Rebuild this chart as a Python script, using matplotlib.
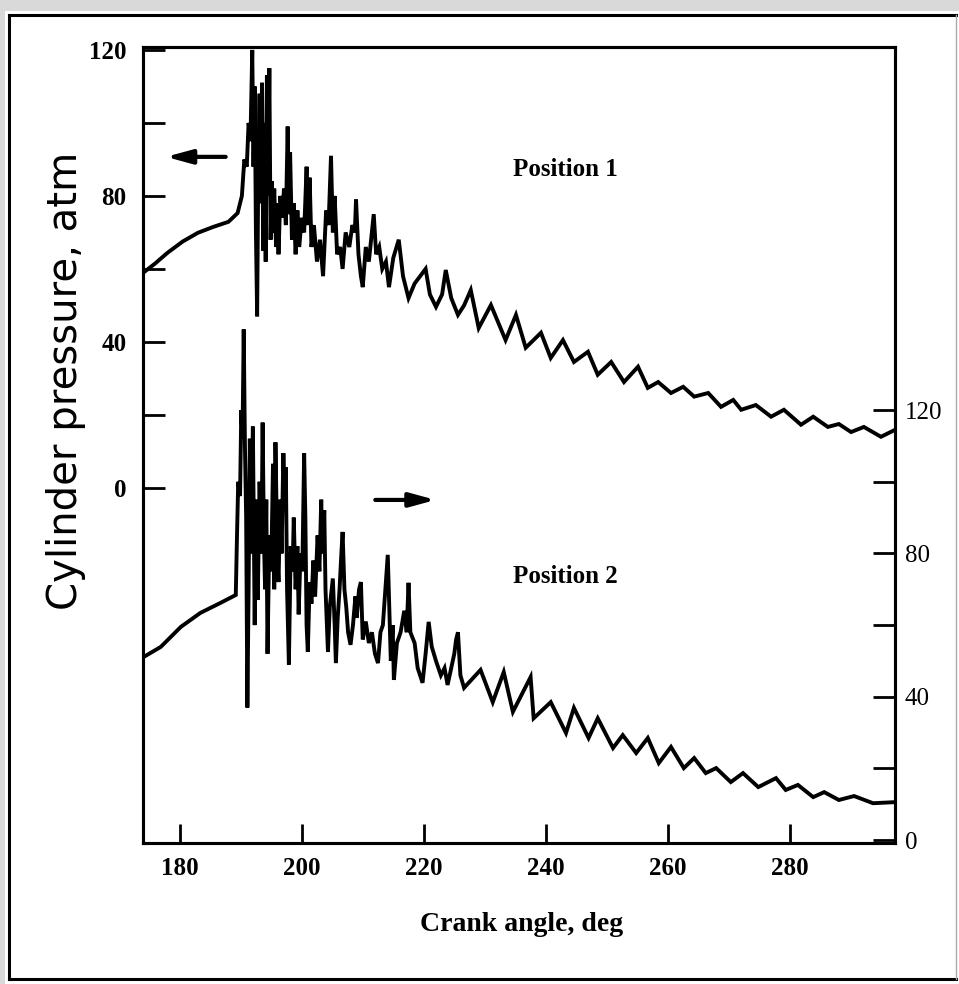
import numpy as np
import matplotlib
matplotlib.use("Agg")
from matplotlib import pyplot as plt
from matplotlib.patches import Rectangle
from matplotlib.lines import Line2D

# ---- data ----
# Position 1 (left axis, atm)
pos1_deg = [174.0, 176.0, 178.0, 180.5, 183.0, 185.5, 188.0, 189.5, 190.2, 190.6,
            191.0, 191.3, 191.6, 191.9, 192.1, 192.3, 192.5, 192.7, 192.9, 193.1,
            193.3, 193.5, 193.7, 193.9, 194.1, 194.3, 194.5, 194.7, 194.9, 195.1,
            195.3, 195.5, 195.8, 196.0, 196.2, 196.5, 196.8, 197.1, 197.4, 197.7,
            197.9, 198.1, 198.4, 198.7, 199.0, 199.3, 199.6, 200.0, 200.4, 200.8,
            201.0, 201.3, 201.6, 202.0, 202.5, 203.0, 203.5, 204.0, 204.4, 204.8,
            205.1, 205.4, 205.8, 206.3, 206.7, 207.2, 207.8, 208.3, 208.7, 208.9,
            209.3, 209.7, 210.0, 210.5, 211.0, 211.5, 211.8, 212.2, 212.7, 213.2,
            213.8, 214.3, 215.0, 215.9, 216.6, 217.5, 218.5, 220.3, 221.0, 222.0,
            223.0, 223.6, 224.5, 225.6, 226.6, 227.7, 229.0, 231.0, 233.4, 235.1,
            236.7, 239.2, 240.8, 242.8, 244.6, 246.9, 248.5, 250.7, 252.8, 255.1,
            256.7, 258.4, 260.5, 262.5, 264.3, 266.6, 268.7, 270.7, 272.0, 274.4,
            276.9, 279.0, 281.8, 283.8, 286.2, 288.0, 290.0, 292.1, 294.9, 297.2]
pos1_p = [58.9, 61.5, 64.4, 67.5, 69.9, 71.5, 72.9, 75.3, 80, 90,
          88, 100, 95, 120, 88, 110, 70, 47, 90, 108,
          78, 111, 65, 100, 62, 113, 80, 115, 68, 84,
          70, 82, 66, 78, 64, 80, 74, 82, 72, 99,
          75, 92, 68, 78, 64, 76, 66, 74, 70, 88,
          72, 85, 66, 72, 62, 68, 58, 76, 72, 91,
          70, 80, 64, 66, 60, 70, 66, 72, 70, 79,
          64, 58, 55, 66, 62, 70, 75, 64, 66, 60,
          62, 55, 63, 68, 58, 52, 56, 60, 53, 49.6,
          53, 59.7, 52, 47.4, 50, 54.2, 43.8, 50.1, 40.5, 47.4,
          38.4, 42.5, 35.6, 40.5, 34.5, 37.3, 31, 34.5, 29, 33.2,
          27.4, 29, 26, 27.7, 25, 26, 22.2, 24.1, 21.4, 22.7,
          19.5, 21.4, 17.3, 19.5, 16.7, 17.5, 15.3, 16.7, 14, 15.9]

# Position 2 (right axis, atm)
pos2_deg = [174.0, 176.9, 180.2, 183.4, 186.7, 189.2, 189.4, 189.6, 189.9, 190.1,
            190.3, 190.5, 190.7, 190.9, 191.1, 191.3, 191.5, 191.7, 192.0, 192.3,
            192.5, 192.8, 193.1, 193.4, 193.6, 193.8, 194.0, 194.2, 194.4, 194.7,
            195.0, 195.3, 195.5, 195.7, 196.0, 196.2, 196.5, 196.7, 197.0, 197.2,
            197.4, 197.6, 197.9, 198.2, 198.5, 198.7, 199.0, 199.3, 199.5, 199.8,
            200.1, 200.4, 200.6, 200.8, 201.0, 201.3, 201.6, 201.9, 202.2, 202.6,
            202.9, 203.2, 203.4, 203.7, 203.9, 204.3, 204.6, 205.1, 205.4, 205.6,
            205.9, 206.2, 206.5, 206.7, 207.0, 207.3, 207.6, 208.0, 208.4, 208.8,
            209.0, 209.4, 209.7, 210.0, 210.5, 211.0, 211.5, 212.0, 212.5, 212.9,
            213.3, 213.8, 214.1, 214.4, 214.6, 214.9, 215.1, 215.6, 216.2, 216.8,
            217.2, 217.5, 217.8, 218.5, 219.0, 219.8, 220.3, 220.8, 221.3, 222.0,
            222.8, 223.4, 223.9, 224.5, 225.0, 225.3, 225.6, 226.0, 226.6, 229.3,
            231.3, 233.1, 234.6, 237.5, 238.0, 240.8, 243.3, 244.6, 247.0, 248.5,
            251.0, 252.6, 254.8, 256.7, 258.5, 260.5, 262.6, 264.3, 266.2, 267.9,
            270.3, 272.3, 274.8, 277.7, 279.3, 281.3, 283.8, 285.6, 288.0, 290.5,
            293.6, 297.2]
pos2_p = [51, 53.9, 59.5, 63.4, 66.2, 68.4, 85, 100, 96, 120,
          112, 142.5, 110, 90, 37, 70, 112, 80, 115.4, 60,
          95, 67, 100, 80, 116.5, 85, 70, 95, 52, 85,
          75, 105, 70, 111, 80, 72, 95, 80, 108, 95,
          104, 70, 49, 82, 75, 90, 70, 82, 63, 80,
          75, 108, 90, 60, 52.5, 72, 66, 78, 68, 85,
          75, 95, 80, 92, 70, 52.5, 65, 73, 60, 49.4,
          62, 70, 80, 86, 70, 65, 58, 54.5, 60, 68,
          62, 70, 72, 56, 61, 55, 58, 52, 49.4, 58,
          60, 72, 79.6, 62, 50, 60, 44.7, 55, 58, 64,
          58, 71.8, 58, 55, 48, 43.9, 52, 60.9, 54, 50,
          46, 48, 43.3, 48, 52, 56, 58, 46, 42.5, 47.5,
          38.5, 46.9, 35.8, 45.5, 34, 38.5, 29.9, 36.9, 28.5, 34,
          25.7, 29.3, 24.3, 28.5, 21.5, 26, 20.1, 22.9, 18.7, 20.1,
          16.2, 18.7, 14.8, 17.3, 14, 15.4, 12, 13.4, 11.2, 12.3,
          10.3, 10.6]

x_ticks = [180, 200, 220, 240, 260, 280]
left_ticks = [0, 40, 80, 120]
right_ticks = [0, 40, 80, 120]

serif = ['Liberation Serif', 'DejaVu Serif']

fig = plt.figure(figsize=(9.59, 9.84), dpi=100)
fig.patch.set_facecolor('white')

# scan margins and outer frame
fig.patches.append(Rectangle((0, 1 - 11/984), 1, 11/984, transform=fig.transFigure,
                             facecolor='#d9d9d9', edgecolor='none', zorder=0))
fig.patches.append(Rectangle((0, 0), 5/959, 1, transform=fig.transFigure,
                             facecolor='#d9d9d9', edgecolor='none', zorder=0))
fx0, fx1 = 9/959, 956/959
fy0, fy1 = 1 - 979/984, 1 - 15/984
fig.lines.append(Line2D([fx0, fx1], [fy1, fy1], transform=fig.transFigure, color='black', lw=2.2))
fig.lines.append(Line2D([fx0, fx0], [fy0, fy1], transform=fig.transFigure, color='black', lw=2.2))
fig.lines.append(Line2D([fx0, fx1], [fy0, fy0], transform=fig.transFigure, color='black', lw=2.2))
fig.lines.append(Line2D([fx1, fx1], [fy0, fy1], transform=fig.transFigure, color='#aaaaaa', lw=1))

ax = fig.add_axes([143/959, 1 - 843/984, 752/959, 796/984])
ax2 = ax.twinx()

ax.plot(pos1_deg, pos1_p, color='black', lw=2.8, solid_joinstyle='miter')
ax2.plot(pos2_deg, pos2_p, color='black', lw=2.8, solid_joinstyle='miter')

ax.set_xlim(174.0, 297.2)
ax.set_ylim(-97.3, 120.8)
ax2.set_ylim(-0.8, 221.3)

for a in (ax, ax2):
    for s in a.spines.values():
        s.set_linewidth(2.2)

ax.set_xticks(x_ticks)
ax.set_yticks(left_ticks)
ax.set_yticks([20, 60, 100], minor=True)
ax2.set_yticks(right_ticks)
ax2.set_yticks([20, 60, 100], minor=True)

ax.tick_params(axis='x', direction='in', length=14, width=2, pad=10)
ax.tick_params(axis='y', which='both', direction='in', length=16, width=2, pad=12)
ax2.tick_params(axis='y', which='both', direction='in', length=16, width=2, pad=7)

for lab in ax.get_xticklabels() + ax.get_yticklabels():
    lab.set_fontfamily(serif)
    lab.set_fontweight('bold')
    lab.set_fontsize(18)
for lab in ax2.get_yticklabels():
    lab.set_fontfamily(serif)
    lab.set_fontsize(18)

ax.set_xlabel('Crank angle, deg', fontfamily=serif, fontweight='bold', fontsize=20)
ax.xaxis.set_label_coords(0.504, -0.087)
ax.set_ylabel('Cylinder pressure, atm', fontfamily='DejaVu Sans', fontsize=29)
ax.yaxis.set_label_coords(-0.076, 0.58)

ax.text(243.2, 87.1, 'Position 1', fontfamily=serif, fontweight='bold', fontsize=18,
        ha='center', va='center')
ax.text(243.2, -24.4, 'Position 2', fontfamily=serif, fontweight='bold', fontsize=18,
        ha='center', va='center')

# arrows pointing to each trace's axis
ax.annotate('', xy=(177.3, 90.7), xytext=(188.0, 90.7),
            arrowprops=dict(arrowstyle='-|>,head_length=1.1,head_width=0.3',
                            color='black', lw=3, mutation_scale=14))
ax.annotate('', xy=(222.4, -3.3), xytext=(211.6, -3.3),
            arrowprops=dict(arrowstyle='-|>,head_length=1.1,head_width=0.3',
                            color='black', lw=3, mutation_scale=14))

plt.savefig('out.png', dpi=100)
